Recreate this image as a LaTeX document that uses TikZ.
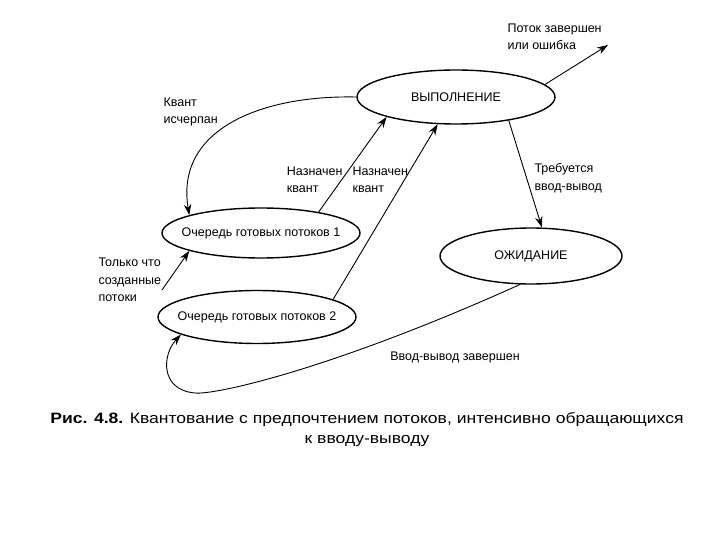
\documentclass[tikz,border=0pt]{standalone}
\usepackage{fontspec}
\setmainfont{Liberation Sans}
\newfontfamily\capfont[FakeStretch=1.17]{Liberation Sans}
\usetikzlibrary{shapes.geometric,arrows.meta}

\begin{document}
\begin{tikzpicture}[x=1pt, y=-1pt,
    every node/.style={font=\fontsize{12.5}{17.5}\selectfont},
    state/.style={ellipse, draw, line width=1.4pt, inner xsep=-25pt, inner ysep=0pt},
    arr/.style={-{Stealth[length=11pt,width=7.5pt]}, line width=0.9pt},
    lbl/.style={align=left, anchor=west}]
    \useasboundingbox (0,0) rectangle (720,540);
    % states
    \node[state, minimum width=198, minimum height=54] (exec) at (456,97) {ВЫПОЛНЕНИЕ};
    \node[state, minimum width=198, minimum height=50] (queA) at (261,233) {Очередь готовых потоков 1};
    \node[state, minimum width=198, minimum height=53] (queB) at (257,317) {Очередь готовых потоков 2};
    \node[state, minimum width=182, minimum height=56] (wait) at (531,256) {ОЖИДАНИЕ};
    % free ends
    \coordinate (done) at (608,45);
    \coordinate (fresh) at (162,290);
    % connectors
    \draw[arr] (exec.8) -- (done);
    \draw[arr] (exec.west) .. controls (260,95) and (175,130) .. (queA.166);
    \draw[arr] (queA.20) -- (exec.196);
    \draw[arr] (queB.13) -- (exec.236);
    \draw[arr] (exec.336) -- (wait.69);
    \draw[arr] (fresh) -- (queA.194);
    \draw[arr] (wait.249) .. controls (330,370) and (215,395) .. (195,393)
        .. controls (160,390) and (162,355) .. (queB.193);
    % labels
    \node[lbl] (lDone) at (504,37) {Поток завершен\\или ошибка};
    \node[lbl] (lQuant) at (160,112) {Квант\\исчерпан};
    \node[lbl, anchor=east] (lSetA) at (346,180) {Назначен\\квант};
    \node[lbl] (lSetB) at (349,180) {Назначен\\квант};
    \node[lbl] (lIO) at (531,178) {Требуется\\ввод-вывод};
    \node[lbl] (lNew) at (95,280) {Только что\\созданные\\потоки};
    \node (lBack) at (455,357) {Ввод-вывод завершен};
    % caption
    \node[align=center, font=\capfont\fontsize{15}{20}\selectfont] (cap) at (367,430)
        {\textbf{Рис. 4.8.} Квантование с предпочтением потоков, интенсивно обращающихся\\к вводу-выводу};
\end{tikzpicture}
\end{document}
